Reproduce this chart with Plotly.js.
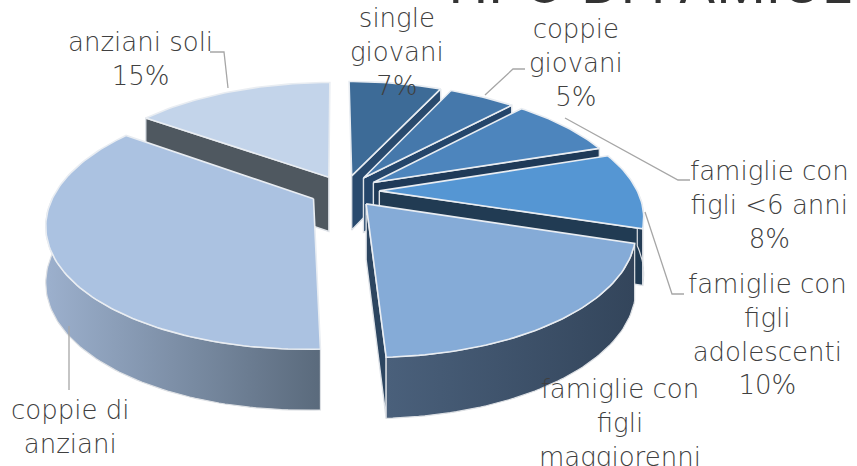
<!DOCTYPE html>
<html>
<head>
<meta charset="utf-8">
<script src="https://cdn.plot.ly/plotly-3.0.1.min.js"></script>
<style>
html,body{margin:0;padding:0;background:#fff;overflow:hidden;width:857px;height:466px}
#chart{width:857px;height:466px}
</style>
</head>
<body>
<div id="chart"></div>
<script>
// Household types, clockwise from twelve o'clock
const categories = ['single giovani', 'coppie giovani', 'famiglie con figli <6 anni',
  'famiglie con figli adolescenti', 'famiglie con figli maggiorenni', 'coppie di anziani', 'anziani soli'];
const shares = [7, 5, 8, 10, 19.4, 35.6, 15];
const labelTexts = ['single<br>giovani<br>7%', 'coppie<br>giovani<br>5%', 'famiglie con<br>figli <6 anni<br>8%',
  'famiglie con<br>figli<br>adolescenti<br>10%', 'famiglie con<br>figli<br>maggiorenni',
  'coppie di<br>anziani', 'anziani soli<br>15%'];
const topColors = ['#3d6b97', '#4578ab', '#4d85bd', '#5596d3', '#85abd7', '#abc2e1', '#c3d4ea'];
const cutColors = ['#294a6e', '#24456a', '#1f3a58', '#213b53', '#2c4560', '#5d6b7d', '#4f5860'];
const wallLeft  = ['#2f537a', '#335a85', '#2a4a6c', '#27425c', '#4a607b', '#9cb0cd', '#6c7a8c'];
const wallRight = ['#2a4a6e', '#2c4e75', '#253f5c', '#22384f', '#33455b', '#5a6a7c', '#4f5860'];
const labelX = [397, 576, 769, 767, 620, 70, 140];
const labelY = [1, 12, 154, 267, 372, 393, 25];

// Perspective tilted-disc projection of the pie
const CX = 344.5, CY = 191, RX = 258, RY = 118, Q = 0.194, EXPLODE = 0.135;
const FIRST_ANGLE = -0.4 * Math.PI / 180;
function project(a, b, drop) {
  const s = 1 / (1 + Q * b);
  const depth = drop ? 55 - 5.5 * b : 0;
  return [CX + RX * a * s, CY - RY * b * s + depth];
}
function arc(t0, t1, off) {
  const n = Math.max(4, Math.ceil((t1 - t0) / 0.02));
  const pts = [];
  for (let i = 0; i <= n; i++) {
    const t = t0 + (t1 - t0) * i / n;
    pts.push([off[0] + Math.sin(t), off[1] + Math.cos(t)]);
  }
  return pts;
}
function poly(pts, opts) {
  const xy = pts.concat([pts[0]]);
  return Object.assign({
    type: 'scatter', mode: 'lines', x: xy.map(p => p[0]), y: xy.map(p => p[1]),
    fill: 'toself', hoverinfo: 'skip', showlegend: false
  }, opts);
}

const total = shares.reduce((s, v) => s + v, 0);
const slices = [];
let cum = 0;
shares.forEach((v, i) => {
  const t0 = FIRST_ANGLE + cum / total * 2 * Math.PI;
  cum += v;
  const t1 = FIRST_ANGLE + cum / total * 2 * Math.PI;
  const mid = (t0 + t1) / 2;
  slices.push({ i, t0, t1, off: [EXPLODE * Math.sin(mid), EXPLODE * Math.cos(mid)] });
});

function sliceTraces(sl) {
  const { i, t0, t1, off } = sl;
  const out = [];
  const apexTop = project(off[0], off[1], false);
  const apexBottom = project(off[0], off[1], true);
  const edge = { color: '#dfe3e8', width: 1.4 };
  const face = t => {
    const r = [off[0] + Math.sin(t), off[1] + Math.cos(t)];
    return poly([apexTop, project(r[0], r[1], false), project(r[0], r[1], true), apexBottom],
      { fillcolor: cutColors[i], line: edge });
  };
  // Only the faces turned towards the viewer are drawn
  if (Math.sin(t0) < -0.01) out.push(face(t0));
  if (Math.sin(t1) > 0.01) out.push(face(t1));
  const w0 = Math.max(t0, Math.PI / 2), w1 = Math.min(t1, 1.5 * Math.PI);
  if (w1 > w0) {
    const rim = arc(w0, w1, off);
    const top = rim.map(p => project(p[0], p[1], false));
    const bottom = rim.map(p => project(p[0], p[1], true));
    const xs = top.concat(bottom).map(p => p[0]);
    out.push(poly(top.concat(bottom.slice().reverse()), {
      line: { color: '#dde0e4', width: 1.2 },
      fillcolor: wallRight[i],
      fillgradient: {
        type: 'horizontal',
        colorscale: [[0, wallLeft[i]], [1, wallRight[i]]],
        start: Math.min(...xs), stop: Math.max(...xs)
      }
    }));
  }
  const top = arc(t0, t1, off).map(p => project(p[0], p[1], false));
  out.push(poly([apexTop].concat(top), {
    fillcolor: topColors[i], line: { color: '#e9edf2', width: 1.6 }
  }));
  return out;
}

// Back slices on the left first, then the right-hand fan going forward
const drawOrder = [6, 5, 0, 1, 2, 3, 4];
const traces = [];
drawOrder.forEach(i => traces.push(...sliceTraces(slices[i])));

// Label leader lines
const leaders = [
  [[210, 52], [224, 52], [228, 88]],
  [[525, 69], [513, 69], [485, 95]],
  [[690, 180], [678, 180], [565, 118]],
  [[684, 294], [672, 294], [645, 212]],
  [[69, 390], [69, 326]]
];
leaders.forEach(l => traces.push({
  type: 'scatter', mode: 'lines', x: l.map(p => p[0]), y: l.map(p => p[1]),
  line: { color: '#a6a6a6', width: 1.3 }, hoverinfo: 'skip', showlegend: false
}));

const FONT = '"DejaVu Sans", Inter, sans-serif';
// Heading sits above the frame, only its foot shows
traces.push({
  type: 'scatter', mode: 'text', x: [438], y: [17], text: ['TIPO DI FAMIGLIA'],
  textposition: 'top right', cliponaxis: false, hoverinfo: 'skip', showlegend: false,
  textfont: { family: 'Inter, sans-serif', size: 55, color: '#333333' }
});

const annotations = labelTexts.map((t, i) => ({
  x: labelX[i], y: labelY[i], xref: 'x', yref: 'y', text: t, showarrow: false,
  xanchor: 'center', yanchor: 'top', align: 'center',
  font: { family: FONT, size: 26, weight: 200, color: '#404040' }
}));

Plotly.newPlot('chart', traces, {
  width: 857, height: 466, margin: { l: 0, r: 0, t: 0, b: 0 },
  paper_bgcolor: '#ffffff', plot_bgcolor: '#ffffff', showlegend: false,
  xaxis: { range: [0, 857], visible: false, fixedrange: true },
  yaxis: { range: [466, 0], visible: false, fixedrange: true },
  annotations
}, { displayModeBar: false, staticPlot: true });
</script>
</body>
</html>
